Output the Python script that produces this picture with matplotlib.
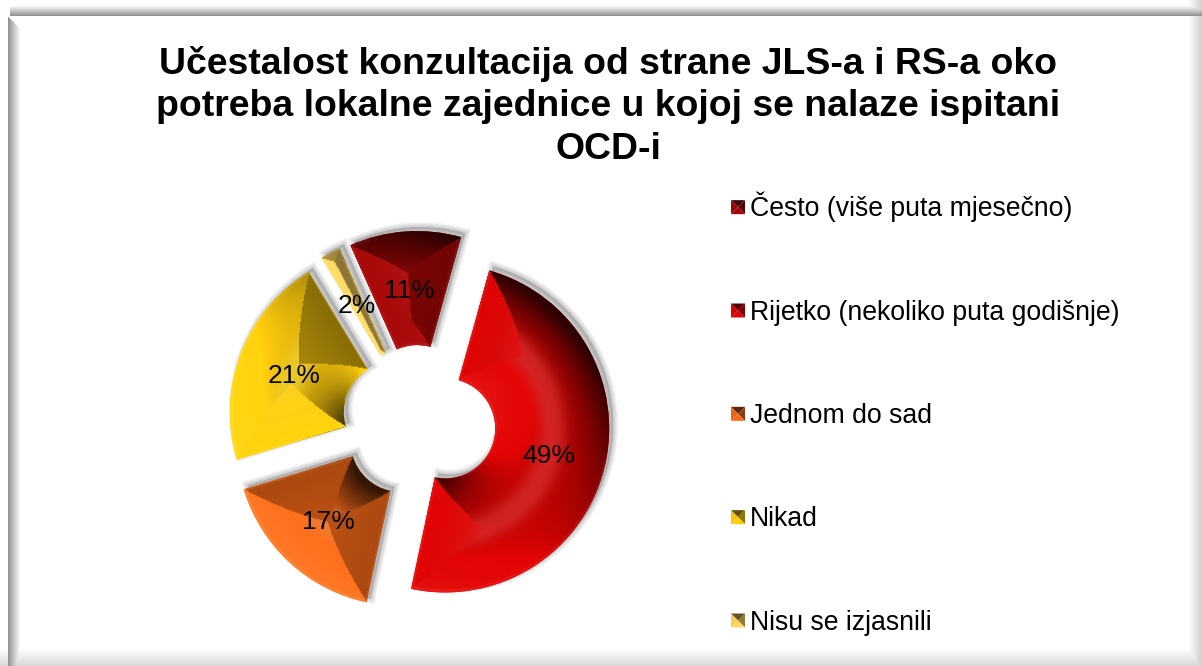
import numpy as np
import matplotlib
matplotlib.use('Agg')
import matplotlib.pyplot as plt
from matplotlib.patches import Polygon, Wedge
from matplotlib.legend_handler import HandlerBase

plt.rcParams['font.family'] = ['Liberation Sans', 'DejaVu Sans']

W, H = 1202, 666

title = ('Učestalost konzultacija od strane JLS-a i RS-a oko\n'
         'potreba lokalne zajednice u kojoj se nalaze ispitani\n'
         'OCD-i')
labels = ['Često (više puta mjesečno)', 'Rijetko (nekoliko puta godišnje)',
          'Jednom do sad', 'Nikad', 'Nisu se izjasnili']
values = [11, 49, 17, 21, 2]
colors = ['#9a0606', '#d20404', '#ec6518', '#f5c40c', '#f4cc5c']

LIGHT = np.array([-0.55, -0.6])
LIGHT = LIGHT / np.hypot(*LIGHT)


def frame_image():
    img = np.ones((H, W))
    yy, xx = np.mgrid[0:H, 0:W]
    top = np.clip((yy - 5) / 10, 0, 1) * 0.42
    img = np.where((yy < 16) & (xx >= 10), 1 - top, img)
    left = np.clip(1 - (xx - 8) / 12, 0, 1) * 0.42
    img = np.where((xx >= 8) & (xx < 20) & (yy >= 16) & (xx - 8 < yy - 16), 1 - left, img)
    bottom = np.clip((yy - 648) / 18, 0, 1) * 0.16
    img = np.minimum(img, 1 - bottom)
    right = np.clip((xx - 1188) / 14, 0, 1) * 0.2
    img = np.minimum(img, 1 - right)
    return np.dstack([img, img, img])


def shade_wedge(ax, wedge):
    # bevel look: each pixel takes its slope from the nearest edge of the slice
    cx, cy = wedge.center
    R = wedge.r
    r0 = R - wedge.width
    x = np.arange(cx - R - 2, cx + R + 2)
    y = np.arange(cy - R - 2, cy + R + 2)
    xx, yy = np.meshgrid(x, y)
    dx, dy = xx - cx, yy - cy
    r = np.hypot(dx, dy) + 1e-6
    ang = np.degrees(np.arctan2(dy, dx))
    a1 = (ang - wedge.theta1) % 360
    a2 = (wedge.theta2 - ang) % 360

    d_out = R - r
    d_in = r - r0
    d_1 = r * np.sin(np.radians(np.minimum(a1, 90)))
    d_2 = r * np.sin(np.radians(np.minimum(a2, 90)))
    d = np.stack([d_out, d_in, d_1, d_2])
    near = np.argmin(d, axis=0)
    dmin = np.min(d, axis=0)

    t1, t2 = np.radians(wedge.theta1), np.radians(wedge.theta2)
    nx = np.select([near == 0, near == 1, near == 2, near == 3],
                   [dx / r, -dx / r, np.full_like(r, np.sin(t1)), np.full_like(r, -np.sin(t2))])
    ny = np.select([near == 0, near == 1, near == 2, near == 3],
                   [dy / r, -dy / r, np.full_like(r, -np.cos(t1)), np.full_like(r, np.cos(t2))])

    ring = wedge.width / 2
    tilt = np.clip(1 - dmin / ring, 0, 1) ** 1.3
    side = near >= 2
    tilt = np.where(side, 0.8 - 0.3 * dmin / ring, tilt)
    s = (nx * LIGHT[0] + ny * LIGHT[1]) * tilt
    # flat side facets stay closer to the base colour
    s = np.where(side, np.where(s > 0, s * 0.5, s * 0.6), s)

    base = np.array(matplotlib.colors.to_rgb(wedge.get_facecolor()))
    gain = np.clip(0.92 + 0.8 * s, 0.22, 1.08)
    rgb = base[None, None, :] * gain[..., None]
    lift = np.clip(s - 0.15, 0, 1) * 0.15
    side_glow = 0.22 * np.clip(dmin / ring, 0, 1) ** 2 * (s > 0)
    spec = np.where(side, side_glow, np.exp(-(tilt / 0.16) ** 2) * 0.3)
    rim = np.where(dmin < 2, 0.12, 0) * (s > -0.5)
    mix = np.clip(lift + spec + rim, 0, 1)[..., None]
    rgb = np.clip(rgb, 0, 1)
    rgb = rgb + (1 - rgb) * mix * (0.4 + 0.6 * base[None, None, :])

    im = ax.imshow(rgb, extent=(x[0], x[-1], y[0], y[-1]), origin='lower',
                   interpolation='bilinear', zorder=2, aspect='equal')
    im.set_clip_path(wedge)


def add_shadow(ax, wedge):
    cx, cy = wedge.center
    for k in range(1, 7):
        ax.add_patch(Wedge((cx + 4, cy + 4), wedge.r, wedge.theta1, wedge.theta2,
                           width=wedge.width, facecolor='#555555', edgecolor='#555555',
                           linewidth=1.2 * k, alpha=0.05, zorder=1))


class PyramidHandler(HandlerBase):
    def create_artists(self, legend, orig, xdescent, ydescent, width, height, fontsize, trans):
        base = np.array(matplotlib.colors.to_rgb(orig.get_facecolor()))
        s = 14 * 0.72
        x0, y0 = -xdescent, -ydescent + (height - s) / 2
        x1, y1 = x0 + s, y0 + s
        mx, my = (x0 + x1) / 2, (y0 + y1) / 2
        faces = [([(x0, y1), (x1, y1), (mx, my)], 0.4),
                 ([(x0, y0), (x0, y1), (mx, my)], 1.0),
                 ([(x1, y0), (x1, y1), (mx, my)], 0.6),
                 ([(x0, y0), (x1, y0), (mx, my)], 1.05)]
        arts = []
        for pts, g in faces:
            arts.append(Polygon(pts, closed=True, facecolor=np.clip(base * g, 0, 1),
                                edgecolor='none', transform=trans))
        return arts


fig = plt.figure(figsize=(W / 100, H / 100), dpi=100, facecolor='white')
ax = fig.add_axes([0, 0, 1, 1])
ax.imshow(frame_image(), extent=(0, W, 0, H), origin='upper', zorder=0, aspect='equal')

# explode is in data units here, the axes run in pixels
pie_wedges, pie_texts, auto_texts = ax.pie(
    values, colors=colors, startangle=114, counterclock=False,
    center=(419, H - 422), radius=164, explode=[27] * len(values),
    wedgeprops=dict(width=114, linewidth=0, zorder=1.5),
    autopct='%d%%', pctdistance=0.65, textprops=dict(fontsize=19, color='black'))

for w in pie_wedges:
    add_shadow(ax, w)
    shade_wedge(ax, w)
for t in auto_texts:
    t.set_zorder(5)
    t.set_y(t.get_position()[1] - 2)

ax.set_xlim(0, W)
ax.set_ylim(0, H)
ax.axis('off')

fig.text(608 / W, 1 - 106.5 / H, title, ha='center', va='center', fontsize=26.9,
         fontweight='bold', linespacing=1.29, color='black')

ax.legend(pie_wedges, labels, loc='upper left', bbox_to_anchor=(731, H - 192),
          bbox_transform=ax.transData, frameon=False, fontsize=19.2, borderpad=0,
          borderaxespad=0, labelspacing=2.9, handlelength=0.55, handletextpad=0.15,
          handler_map={Wedge: PyramidHandler()})

fig.savefig('out.png', dpi=100)
